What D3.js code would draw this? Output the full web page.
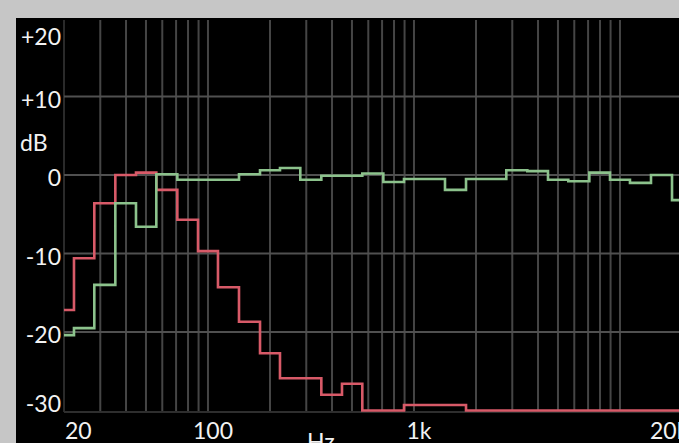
<!DOCTYPE html>
<html>
<head>
<meta charset="utf-8">
<script src="https://cdn.jsdelivr.net/npm/d3@7"></script>
<style>
  html, body { margin: 0; padding: 0; background: #c6c6c6; }
  svg { display: block; }
  text { font-family: Lato, "Open Sans", sans-serif; fill: #f2f2f2; }
</style>
</head>
<body>
<svg id="chart" width="679" height="443"></svg>
<script>
// 1/3-octave band centre frequencies (Hz)
const bands = [20, 25, 31.5, 40, 50, 63, 80, 100, 125, 160, 200, 250, 315, 400, 500, 630, 800,
  1000, 1250, 1600, 2000, 2500, 3150, 4000, 5000, 6300, 8000, 10000, 12500, 16000, 20000];

// red series (dB)
const redValues = [-17.2, -10.6, -3.6, 0.0, 0.3, -1.9, -5.7, -9.7, -14.3, -18.7, -22.7, -25.9, -25.9,
  -28.0, -26.6, -30, -30, -29.3, -29.3, -29.3, -30, -30, -30, -30, -30, -30, -30, -30, -30, -30, -30];

// green series (dB)
const greenValues = [-20.4, -19.5, -14.0, -3.6, -6.6, 0.1, -0.6, -0.6, -0.6, 0.1, 0.6, 0.9, -0.6,
  -0.1, -0.1, 0.2, -0.9, -0.5, -0.5, -1.9, -0.5, -0.5, 0.6, 0.5, -0.6, -0.8, 0.3, -0.6, -1.0, 0.0, -3.2];

// axis ticks
const yTicks = [20, 10, 0, -10, -20, -30];
const yTickLabels = ["+20", "+10", "0", "-10", "-20", "-30"];
const xGridFreqs = [30, 40, 50, 60, 70, 80, 90, 100, 200, 300, 400, 500, 600, 700, 800, 900,
  1000, 2000, 3000, 4000, 5000, 6000, 7000, 8000, 9000, 10000];
const xTicks = [20, 100, 1000, 20000];
const xTickLabels = ["20", "100", "1k", "20k"];

const W = 679, H = 443;
const svg = d3.select("#chart");

const x = d3.scaleLog().domain([20, 20000]).range([64, 682]);
const y = d3.scaleLinear().domain([20, -30]).range([18, 410.5]);

// backgrounds
svg.append("rect").attr("x", 0).attr("y", 0).attr("width", W).attr("height", H).attr("fill", "#c6c6c6");
svg.append("rect").attr("x", 16).attr("y", 18).attr("width", W - 16).attr("height", H - 18).attr("fill", "#000");

// grid
const grid = svg.append("g");
grid.selectAll("line.v").data(xGridFreqs).join("line")
  .attr("class", "v")
  .attr("x1", d => x(d)).attr("x2", d => x(d))
  .attr("y1", 20).attr("y2", 412)
  .attr("stroke", "#454545").attr("stroke-width", 2);
grid.append("line")
  .attr("x1", x(20)).attr("x2", x(20)).attr("y1", 20).attr("y2", 412)
  .attr("stroke", "#2a2a2a").attr("stroke-width", 2);
grid.selectAll("line.h").data(yTicks.filter(d => d < 20 && d > -30)).join("line")
  .attr("class", "h")
  .attr("x1", x(20)).attr("x2", W)
  .attr("y1", d => y(d)).attr("y2", d => y(d))
  .attr("stroke", "#505050").attr("stroke-width", 2);
grid.append("line")
  .attr("x1", x(20)).attr("x2", W).attr("y1", y(-30) + 1.5).attr("y2", y(-30) + 1.5)
  .attr("stroke", "#2e2e2e").attr("stroke-width", 2);

// curves
svg.append("clipPath").attr("id", "plotclip").append("rect")
  .attr("x", x(20)).attr("y", 18).attr("width", W - x(20)).attr("height", 397);

const line = d3.line()
  .x(d => x(d[0]))
  .y(d => y(d[1]))
  .curve(d3.curveStep);

const curves = svg.append("g").attr("clip-path", "url(#plotclip)");
curves.append("path")
  .datum(bands.map((f, i) => [f, redValues[i]]))
  .attr("d", line)
  .attr("fill", "none")
  .attr("stroke", "#d85a68")
  .attr("stroke-width", 2.6)
  .attr("stroke-linejoin", "miter");
curves.append("path")
  .datum(bands.map((f, i) => [f, greenValues[i]]))
  .attr("d", line)
  .attr("fill", "none")
  .attr("stroke", "#8cc28c")
  .attr("stroke-width", 2.6)
  .attr("stroke-linejoin", "miter");

// y labels
svg.append("g").selectAll("text").data(yTicks).join("text")
  .attr("x", 61)
  .attr("y", d => Math.min(Math.max(y(d) + 2, 36), 403))
  .attr("text-anchor", "end")
  .attr("dominant-baseline", "central")
  .attr("font-size", 23)
  .text((d, i) => yTickLabels[i]);

svg.append("text")
  .attr("x", 20).attr("y", 142)
  .attr("dominant-baseline", "central")
  .attr("font-size", 23)
  .text("dB");

// x labels
svg.append("g").selectAll("text").data(xTicks).join("text")
  .attr("x", (d, i) => x(d) + (i === 0 ? 1 : i === xTicks.length - 1 ? -32 : 5))
  .attr("y", 439)
  .attr("text-anchor", (d, i) => i === 0 || i === xTicks.length - 1 ? "start" : "middle")
  .attr("font-size", 23)
  .text((d, i) => xTickLabels[i]);

svg.append("text")
  .attr("x", 307).attr("y", 450)
  .attr("font-size", 23)
  .text("Hz");
</script>
</body>
</html>
